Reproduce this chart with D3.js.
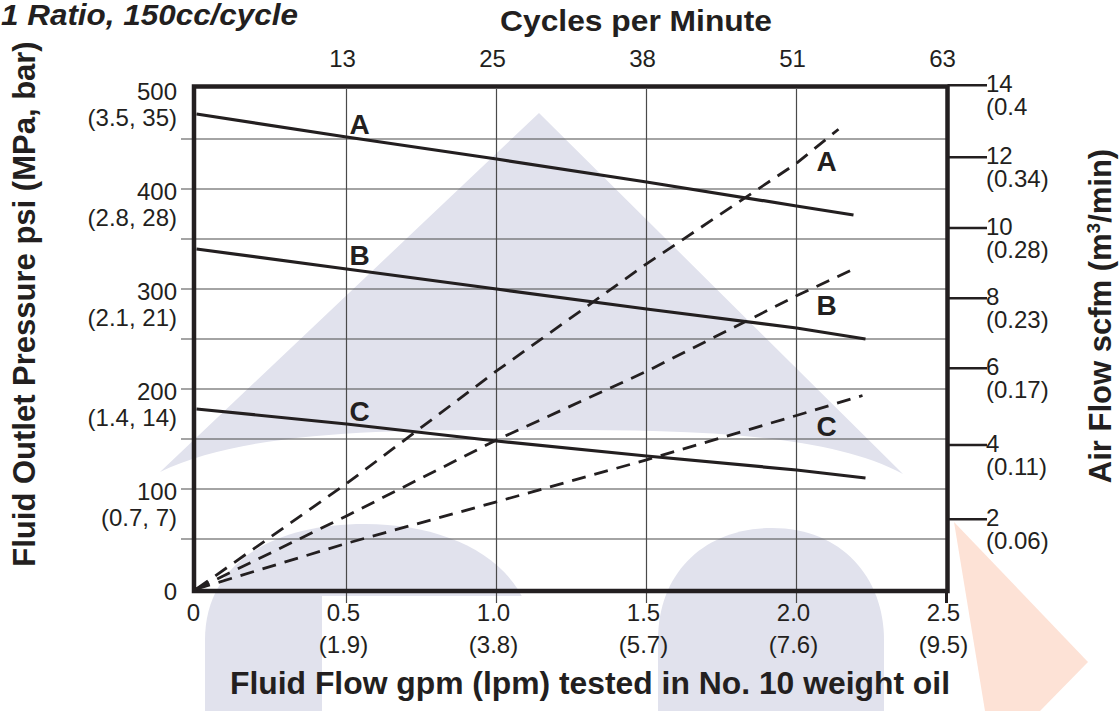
<!DOCTYPE html>
<html><head><meta charset="utf-8">
<script src="https://cdn.jsdelivr.net/npm/d3@7"></script>
<style>
body{margin:0;background:#fff}
svg{display:block}
text{font-family:"Liberation Sans",Arial,Helvetica,sans-serif;fill:#231f20}
</style></head>
<body><svg id="chart" width="1120" height="711"></svg>
<script>
// ---------- data ----------
const flowTicks   = [0, 0.5, 1.0, 1.5, 2.0, 2.5];
const gpmLabels   = ["0", "0.5", "1.0", "1.5", "2.0", "2.5"];
const lpmLabels   = ["", "(1.9)", "(3.8)", "(5.7)", "(7.6)", "(9.5)"];
const cycleTicks  = [0.5, 1.0, 1.5, 2.0, 2.5];
const cycleLabels = ["13", "25", "38", "51", "63"];
const psiTicks    = [0, 100, 200, 300, 400, 500];
const psiLabels   = ["0", "100", "200", "300", "400", "500"];
const mpaLabels   = ["", "(0.7, 7)", "(1.4, 14)", "(2.1, 21)", "(2.8, 28)", "(3.5, 35)"];
const psiGrid     = [50, 100, 150, 200, 250, 300, 350, 400, 450];
const scfmTicks   = [2, 4, 6, 8, 10, 12, 14];
const scfmLabels  = ["2", "4", "6", "8", "10", "12", "14"];
const m3Labels    = ["(0.06)", "(0.11)", "(0.17)", "(0.23)", "(0.28)", "(0.34)", "(0.4"];

// fluid outlet pressure (psi) vs fluid flow (gpm)
const pressureFlowA = [0, 0.5, 1.0, 1.5, 2.0, 2.19];
const pressureA     = [475, 452, 430, 407, 383, 374];
const pressureFlowB = [0, 0.5, 1.0, 1.5, 2.0, 2.23];
const pressureB     = [340, 320, 300, 280, 261, 250];
const pressureFlowC = [0, 0.5, 1.0, 1.5, 2.0, 2.23];
const pressureC     = [180, 165, 148, 133, 119, 111];

// air consumption (scfm) vs fluid flow (gpm)
const airFlowA = [0, 0.5, 1.0, 1.5, 2.0, 2.14];
const airA     = [0, 2.96, 5.93, 8.98, 11.83, 12.78];
const airFlowB = [0, 0.5, 1.0, 1.5, 2.0, 2.2];
const airB     = [0, 2.09, 4.13, 5.92, 8.07, 8.87];
const airFlowC = [0, 0.5, 1.0, 1.5, 2.0, 2.22];
const airC     = [0, 1.31, 2.47, 3.6, 4.77, 5.29];

const seriesNames = ["A", "B", "C"];

// ---------- layout ----------
const svg = d3.select("#chart");
const ink = "#231f20", gridCol = "#4a4a4a";
const x = d3.scaleLinear().domain([0, 2.5]).range([196.5, 946.5]);
const y = d3.scaleLinear().domain([0, 500]).range([589, 89]);
// right axis is hand-spaced in the original: piecewise-linear scale
const yAir = d3.scaleLinear().domain([0, 2, 4, 6, 8, 10, 12, 14])
  .range([589, 519.3, 445, 368.3, 298.3, 228, 157.3, 85.3]);

// ---------- background watermark ----------
const wm = svg.append("g");
const lav = "#e1e2ed";
wm.append("path").attr("fill", lav)
  .attr("d", "M539,113 L903,474 C820,428 650,430 531,430 C410,430 250,428 160,472 Z");
wm.append("path").attr("fill", lav)
  .attr("d", "M205,711 L205,640 C205,565 270,524 365,524 C455,524 530,565 534,640 L534,711 Z");
wm.append("rect").attr("fill", "#fff")
  .attr("x", 322).attr("y", 596).attr("width", 220).attr("height", 115);
wm.append("path").attr("fill", lav)
  .attr("d", "M658,711 L658,640 C658,572 705,528 772,528 C842,528 884,578 884,640 L884,711 Z");
wm.append("path").attr("fill", "#fde2d6")
  .attr("d", "M954,522 L1088,662 L1040,711 L985,711 Z");

// ---------- grid ----------
const g = svg.append("g");
g.selectAll(".hg").data(psiGrid).join("line")
  .attr("x1", 181).attr("x2", x(2.5))
  .attr("y1", d => y(d)).attr("y2", d => y(d))
  .attr("stroke", gridCol).attr("stroke-width", 1.2);
g.selectAll(".vg").data(cycleTicks.slice(0, 4)).join("line")
  .attr("x1", d => x(d)).attr("x2", d => x(d))
  .attr("y1", y(500)).attr("y2", 603)
  .attr("stroke", gridCol).attr("stroke-width", 1.2);
g.append("line").attr("x1", x(2.5)).attr("x2", x(2.5))
  .attr("y1", y(0)).attr("y2", 603).attr("stroke", ink).attr("stroke-width", 3);

// ---------- frame ----------
svg.append("rect")
  .attr("x", x(0) - 2.5).attr("y", y(500) - 2.5)
  .attr("width", x(2.5) + 1 - (x(0) - 2.5)).attr("height", y(0) + 2 - (y(500) - 2.5))
  .attr("fill", "none").attr("stroke", ink).attr("stroke-width", 4.5);

// right axis ticks
svg.selectAll(".rt").data(scfmTicks).join("line")
  .attr("x1", x(2.5) + 1).attr("x2", 987)
  .attr("y1", d => yAir(d)).attr("y2", d => yAir(d))
  .attr("stroke", ink).attr("stroke-width", 2.5);

// ---------- lines ----------
const lineP = d3.line().x(d => x(d[0])).y(d => y(d[1]));
const lineA = d3.line().x(d => x(d[0])).y(d => yAir(d[1]));
const pSets = [[pressureFlowA, pressureA], [pressureFlowB, pressureB], [pressureFlowC, pressureC]];
const aSets = [[airFlowA, airA], [airFlowB, airB], [airFlowC, airC]];
pSets.forEach(([f, v]) => {
  svg.append("path").attr("d", lineP(f.map((q, i) => [q, v[i]])))
    .attr("fill", "none").attr("stroke", ink).attr("stroke-width", 3.2);
});
aSets.forEach(([f, v]) => {
  svg.append("path").attr("d", lineA(f.map((q, i) => [q, v[i]])))
    .attr("fill", "none").attr("stroke", ink).attr("stroke-width", 2.8)
    .attr("stroke-dasharray", "14,9");
});

// series labels
const leftLab = [455, 324, 168], rightLab = [418.5, 274, 153];
seriesNames.forEach((n, i) => {
  svg.append("text").text(n).attr("x", x(0.51)).attr("y", y(leftLab[i]))
    .attr("font-size", 28).attr("font-weight", "bold");
  svg.append("text").text(n).attr("x", x(2.067)).attr("y", y(rightLab[i]))
    .attr("font-size", 28).attr("font-weight", "bold");
});

// ---------- tick labels ----------
const fs = 24;
svg.selectAll(".ly").data(psiTicks).join("text")
  .attr("x", 177).attr("y", d => y(d) + 11).attr("text-anchor", "end")
  .attr("font-size", fs).text((d, i) => psiLabels[i]);
svg.selectAll(".ly2").data(psiTicks).join("text")
  .attr("x", 177).attr("y", d => y(d) + 37).attr("text-anchor", "end")
  .attr("font-size", fs).text((d, i) => mpaLabels[i]);

svg.selectAll(".bx").data(flowTicks).join("text")
  .attr("x", d => x(d) - 3).attr("y", 621).attr("text-anchor", "middle")
  .attr("font-size", fs).text((d, i) => gpmLabels[i]);
svg.selectAll(".bx2").data(flowTicks).join("text")
  .attr("x", d => x(d) - 3).attr("y", 653).attr("text-anchor", "middle")
  .attr("font-size", fs).text((d, i) => lpmLabels[i]);

svg.selectAll(".tx").data(cycleTicks).join("text")
  .attr("x", d => x(d) - 4).attr("y", 67).attr("text-anchor", "middle")
  .attr("font-size", fs).text((d, i) => cycleLabels[i]);

svg.selectAll(".ry").data(scfmTicks).join("text")
  .attr("x", 986).attr("y", d => yAir(d) + 7)
  .attr("font-size", fs).text((d, i) => scfmLabels[i]);
svg.selectAll(".ry2").data(scfmTicks).join("text")
  .attr("x", 986).attr("y", d => yAir(d) + 30)
  .attr("font-size", fs).text((d, i) => m3Labels[i]);

// ---------- titles ----------
svg.append("text").text("1 Ratio, 150cc/cycle")
  .attr("x", 1).attr("y", 25).attr("font-size", 29)
  .attr("font-weight", "bold").attr("font-style", "italic")
  .attr("textLength", 297).attr("lengthAdjust", "spacingAndGlyphs");
svg.append("text").text("Cycles per Minute")
  .attr("x", 636).attr("y", 31).attr("text-anchor", "middle")
  .attr("font-size", 30).attr("font-weight", "bold")
  .attr("textLength", 272).attr("lengthAdjust", "spacingAndGlyphs");
svg.append("text").text("Fluid Flow gpm (lpm) tested in No. 10 weight oil")
  .attr("x", 590).attr("y", 694).attr("text-anchor", "middle")
  .attr("font-size", 31).attr("font-weight", "bold")
  .attr("textLength", 720).attr("lengthAdjust", "spacingAndGlyphs");
svg.append("text").text("Fluid Outlet Pressure psi (MPa, bar)")
  .attr("transform", "translate(35,304) rotate(-90)").attr("text-anchor", "middle")
  .attr("font-size", 31).attr("font-weight", "bold");
const rt = svg.append("text")
  .attr("transform", "translate(1111,316) rotate(-90)").attr("text-anchor", "middle")
  .attr("font-size", 31).attr("font-weight", "bold");
rt.append("tspan").text("Air Flow scfm (m");
rt.append("tspan").text("3").attr("font-size", 19).attr("dy", -11);
rt.append("tspan").text("/min)").attr("dy", 11);
</script></body></html>
